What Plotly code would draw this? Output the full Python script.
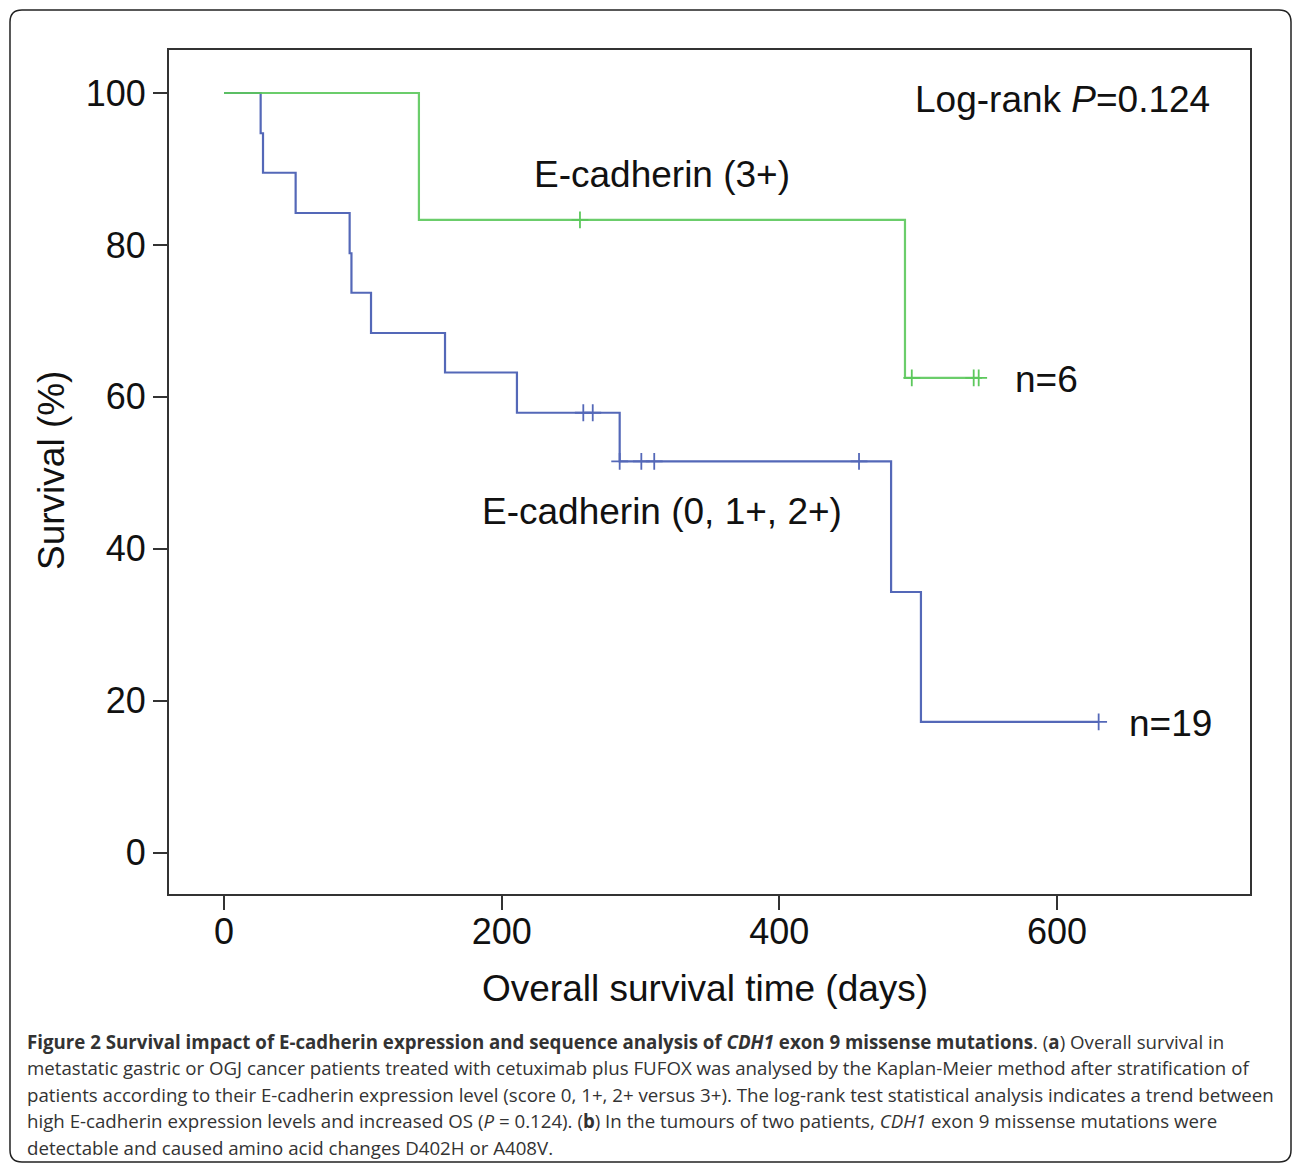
import numpy as np
import plotly.graph_objects as go

# ---- data ----
low_name = "E-cadherin (0, 1+, 2+)"
high_name = "E-cadherin (3+)"

blue_time = [0, 26.4, 28.1, 51.6, 90.5, 91.8, 105.9, 159.2, 211.0, 285.0, 480.5, 502.0, 630.0]
blue_surv = [100, 94.7, 89.5, 84.2, 78.9, 73.7, 68.4, 63.2, 57.9, 51.5, 34.3, 17.2, 17.2]
blue_censor = [258.8, 265.6, 285.0, 300.6, 309.9, 457.4, 630.0]

green_time = [0, 140.4, 490.5, 543.6]
green_surv = [100, 83.3, 62.5, 62.5]
green_censor = [256.4, 495.4, 540.0, 543.6]

x_ticks = [0, 200, 400, 600]
y_ticks = [0, 20, 40, 60, 80, 100]

BLUE = "#5468b8"
GREEN = "#5cc85c"
AX = "#333333"
W, H = 1293, 1164
L, R, T, B = 169, 1250, 50, 894


def step_at(times, surv, t):
    idx = np.searchsorted(np.array(times), np.array(t), side="right") - 1
    return list(np.array(surv)[idx])


fig = go.Figure()
fig.add_trace(go.Scatter(x=blue_time, y=blue_surv, mode="lines", line=dict(color=BLUE, width=2.2, shape="hv"),
                         showlegend=False, hoverinfo="skip"))
fig.add_trace(go.Scatter(x=blue_censor, y=step_at(blue_time, blue_surv, blue_censor), mode="markers",
                         marker=dict(symbol="cross-thin", size=12, line=dict(color=BLUE, width=1.8)),
                         showlegend=False, hoverinfo="skip"))
fig.add_trace(go.Scatter(x=green_time, y=green_surv, mode="lines", line=dict(color=GREEN, width=2.2, shape="hv"),
                         opacity=0.9, showlegend=False, hoverinfo="skip"))
fig.add_trace(go.Scatter(x=green_censor, y=step_at(green_time, green_surv, green_censor), mode="markers",
                         marker=dict(symbol="cross-thin", size=12, line=dict(color=GREEN, width=1.8)),
                         showlegend=False, hoverinfo="skip"))

# pixel -> coords helpers
xpx0, xpx600 = 224.0, 1057.0
ppd = (xpx600 - xpx0) / 600.0
ypx100, ypx0 = 93.0, 852.5
ppu = (ypx0 - ypx100) / 100.0


def dx(px):
    return (px - xpx0) / ppd


def dy(py):
    return (ypx0 - py) / ppu


def paper_x(px):
    return (px - L) / (R - L)


def paper_y(py):
    return (B - py) / (B - T)


font = "Liberation Sans, Arial, sans-serif"
FS = 37
ann = []
ann.append(dict(x=dx(1212), y=dy(99), xref="x", yref="y", text="Log-rank <i>P</i>=0.124", showarrow=False,
                xanchor="right", yanchor="middle", font=dict(family=font, size=FS, color="#111")))
ann.append(dict(x=dx(662), y=dy(174), xref="x", yref="y", text=high_name, showarrow=False,
                xanchor="center", yanchor="middle", font=dict(family=font, size=FS, color="#111")))
ann.append(dict(x=dx(1013), y=dy(379), xref="x", yref="y", text="n=6", showarrow=False,
                xanchor="left", yanchor="middle", font=dict(family=font, size=FS, color="#111")))
ann.append(dict(x=dx(662), y=dy(511), xref="x", yref="y", text=low_name, showarrow=False,
                xanchor="center", yanchor="middle", font=dict(family=font, size=FS, color="#111")))
ann.append(dict(x=dx(1127), y=dy(723), xref="x", yref="y", text="n=19", showarrow=False,
                xanchor="left", yanchor="middle", font=dict(family=font, size=FS, color="#111")))
# axis titles
ann.append(dict(x=paper_x(705), y=paper_y(988), xref="paper", yref="paper", text="Overall survival time (days)",
                showarrow=False, xanchor="center", yanchor="middle", font=dict(family=font, size=FS, color="#111")))
ann.append(dict(x=paper_x(52), y=paper_y(471), xref="paper", yref="paper", text="Survival (%)", textangle=-90,
                showarrow=False, xanchor="center", yanchor="middle", font=dict(family=font, size=FS, color="#111")))

# caption
cap_font = "Open Sans, Noto Sans, sans-serif"
cap_lines = [
    "<b>Figure 2 Survival impact of E-cadherin expression and sequence analysis of <i>CDH1</i> exon 9 missense mutations</b>. (<b>a</b>) Overall survival in",
    "metastatic gastric or OGJ cancer patients treated with cetuximab plus FUFOX was analysed by the Kaplan-Meier method after stratification of",
    "patients according to their E-cadherin expression level (score 0, 1+, 2+ versus 3+). The log-rank test statistical analysis indicates a trend between",
    "high E-cadherin expression levels and increased OS (<i>P</i> = 0.124). (<b>b</b>) In the tumours of two patients, <i>CDH1</i> exon 9 missense mutations were",
    "detectable and caused amino acid changes D402H or A408V.",
]
cap_y = [1041, 1067.5, 1094, 1120.5, 1147]
for line, py in zip(cap_lines, cap_y):
    ann.append(dict(x=paper_x(25), y=paper_y(py), xref="paper", yref="paper", text=line, showarrow=False,
                    xanchor="left", yanchor="middle", font=dict(family=cap_font, size=18.7, color="#333")))

# outer rounded frame
x0, x1, y0, y1, r = 10, 1291, 10, 1162, 12
def P(px, py):
    return f"{paper_x(px):.5f},{paper_y(py):.5f}"
path = (f"M {P(x0 + r, y0)} L {P(x1 - r, y0)} Q {P(x1, y0)} {P(x1, y0 + r)} "
        f"L {P(x1, y1 - r)} Q {P(x1, y1)} {P(x1 - r, y1)} "
        f"L {P(x0 + r, y1)} Q {P(x0, y1)} {P(x0, y1 - r)} "
        f"L {P(x0, y0 + r)} Q {P(x0, y0)} {P(x0 + r, y0)} Z")

fig.update_layout(
    width=W, height=H,
    margin=dict(l=L, r=W - R, t=T, b=H - B, pad=0),
    paper_bgcolor="white", plot_bgcolor="white",
    annotations=ann,
    shapes=[dict(type="path", path=path, xref="paper", yref="paper", line=dict(color="#222", width=1.5),
                 layer="below")],
    xaxis=dict(range=[dx(L), dx(R)], tickvals=x_ticks, ticks="outside", ticklen=14, tickwidth=2, tickcolor=AX,
               showline=True, linecolor=AX, linewidth=2, mirror=True, showgrid=False, zeroline=False,
               ticklabelstandoff=-9,
               tickfont=dict(family=font, size=36, color="#111")),
    yaxis=dict(range=[dy(B), dy(T)], tickvals=y_ticks, ticks="outside", ticklen=14, tickwidth=2, tickcolor=AX,
               showline=True, linecolor=AX, linewidth=2, mirror=True, showgrid=False, zeroline=False,
               tickfont=dict(family=font, size=36, color="#111")),
)

fig.write_html("out.html", config={"displayModeBar": False},
               post_script="document.body.style.margin='0';document.body.style.overflow='hidden';")
